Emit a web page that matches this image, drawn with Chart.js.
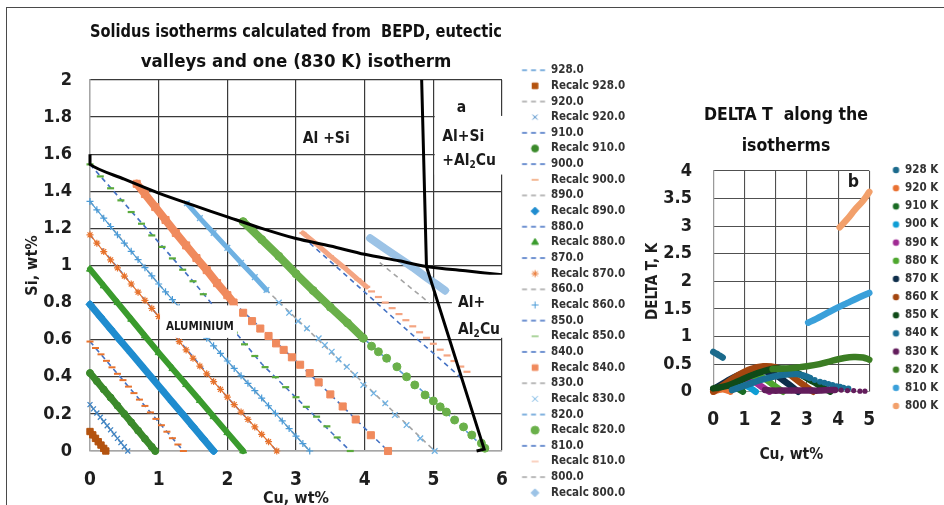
<!DOCTYPE html>
<html>
<head>
<meta charset="utf-8">
<script src="https://cdn.jsdelivr.net/npm/chart.js@4.4.1/dist/chart.umd.min.js"></script>
<style>
  html, body { margin: 0; padding: 0; background: #fff; overflow: hidden; }
  #page { position: relative; width: 944px; height: 505px; overflow: hidden; }
  #frame { position: absolute; left: 6px; top: 7px; width: 960px; height: 520px; border-top: 1px solid #4a4a4a; border-left: 1px solid #4a4a4a; }
  #isoBox { position: absolute; left: 0; top: 0; width: 640px; height: 563px; }
  #deltaBox { position: absolute; left: 622px; top: 0; width: 328px; height: 576px; }
</style>
</head>
<body>
<div id="page">
  <div id="frame"></div>
  <div id="isoBox"><canvas id="isoChart"></canvas></div>
  <div id="deltaBox"><canvas id="deltaChart"></canvas></div>
</div>
<script>
const FONT = "'DejaVu Sans Condensed', 'Liberation Sans Narrow', 'Arial Narrow', sans-serif";

// ---- isotherm temperatures, K ----
const temps = [928, 920, 910, 900, 890, 880, 870, 860, 850, 840, 830, 820, 810, 800];

// ---- BEPD solidus isotherms, [Cu wt%, Si wt%] ----
const iso928 = [[0, 0.105], [0.23, 0]];
const iso920 = [[0, 0.25], [0.55, 0]];
const iso910 = [[0, 0.42], [0.95, 0]];
const iso900 = [[0, 0.59], [1.36, 0]];
const iso890 = [[0, 0.79], [1.8, 0]];
const iso880 = [[0, 0.98], [1.0, 0.53], [2.23, 0]];
const iso870 = [[0, 1.165], [1.0, 0.725], [2.0, 0.29], [2.72, 0]];
const iso860 = [[0, 1.345], [1.0, 0.9], [2.0, 0.485], [3.2, 0]];
const iso850 = [[0, 1.545], [1.5, 0.915], [2.5, 0.47], [3.79, 0]];
const iso840 = [[0.68, 1.44], [1.4, 1.108], [2.09, 0.8], [3.06, 0.465], [4.34, 0]];
const iso830 = [[1.41, 1.335], [2.57, 0.868], [3.62, 0.494], [5.02, 0]];
const iso820 = [[2.23, 1.236], [3.98, 0.608], [5.0, 0.27], [5.75, 0.015]];
const iso810 = [[3.2, 1.12], [3.64, 0.976], [4.5, 0.69], [5.44, 0.383]];
const iso800 = [[4.22, 1.015], [4.95, 0.796]];

// ---- recalculated isotherms, [Cu wt%, Si wt%] ----
const recalc928 = [[0, 0.105], [0.04, 0.087], [0.08, 0.068], [0.12, 0.05], [0.16, 0.032], [0.2, 0.014], [0.23, 0]];
const recalc920 = [[0, 0.25], [0.05, 0.227], [0.1, 0.205], [0.15, 0.182], [0.2, 0.159], [0.25, 0.136], [0.3, 0.114],
  [0.35, 0.091], [0.4, 0.068], [0.45, 0.045], [0.5, 0.023], [0.55, 0]];
const recalc910 = [[0, 0.42], [0.1, 0.376], [0.2, 0.332], [0.3, 0.288], [0.4, 0.244], [0.5, 0.2], [0.6, 0.155],
  [0.7, 0.11], [0.8, 0.066], [0.9, 0.022], [0.95, 0]];
const recalc900 = [[0, 0.59], [0.08, 0.555], [0.16, 0.521], [0.24, 0.486], [0.32, 0.451], [0.4, 0.416], [0.48, 0.382],
  [0.56, 0.347], [0.64, 0.312], [0.72, 0.277], [0.8, 0.243], [0.88, 0.208], [0.96, 0.173], [1.04, 0.139],
  [1.12, 0.104], [1.2, 0.069], [1.28, 0.035], [1.36, 0]];
const recalc890 = [[0, 0.79], [0.15, 0.724], [0.3, 0.658], [0.45, 0.592], [0.6, 0.527], [0.75, 0.461], [0.9, 0.395],
  [1.05, 0.329], [1.2, 0.263], [1.35, 0.198], [1.5, 0.132], [1.65, 0.066], [1.8, 0]];
const recalc880 = [[0, 0.98], [0.2, 0.89], [0.4, 0.8], [0.6, 0.71], [0.8, 0.62], [1.0, 0.53], [1.2, 0.444],
  [1.4, 0.358], [1.6, 0.272], [1.8, 0.185], [2.0, 0.099], [2.23, 0]];
const recalc870 = [[0, 1.165], [0.1, 1.12], [0.2, 1.075], [0.3, 1.03], [0.4, 0.987], [0.5, 0.943], [0.6, 0.9],
  [0.7, 0.856], [0.8, 0.812], [0.9, 0.769], [1.0, 0.725], [1.1, 0.68], [1.2, 0.635], [1.3, 0.59], [1.4, 0.545],
  [1.5, 0.5], [1.6, 0.458], [1.7, 0.416], [1.8, 0.374], [1.9, 0.332], [2.0, 0.29], [2.1, 0.25], [2.2, 0.21],
  [2.3, 0.17], [2.4, 0.13], [2.5, 0.09], [2.6, 0.05], [2.72, 0]];
const recalc860 = [[0, 1.345], [0.1, 1.3], [0.2, 1.255], [0.3, 1.21], [0.4, 1.165], [0.5, 1.12], [0.6, 1.076],
  [0.7, 1.032], [0.8, 0.988], [0.9, 0.944], [1.0, 0.9], [1.1, 0.858], [1.2, 0.816], [1.3, 0.774], [1.4, 0.732],
  [1.5, 0.69], [1.6, 0.649], [1.7, 0.608], [1.8, 0.567], [1.9, 0.526], [2.0, 0.485], [2.1, 0.445], [2.2, 0.405],
  [2.3, 0.365], [2.4, 0.325], [2.5, 0.285], [2.6, 0.244], [2.7, 0.203], [2.8, 0.162], [2.9, 0.121], [3.0, 0.08],
  [3.1, 0.04], [3.2, 0]];
const recalc850 = [[0, 1.545], [0.15, 1.48], [0.3, 1.416], [0.45, 1.351], [0.6, 1.288], [0.75, 1.225], [0.9, 1.162],
  [1.05, 1.1], [1.2, 1.038], [1.35, 0.977], [1.5, 0.915], [1.65, 0.845], [1.8, 0.774], [1.95, 0.704], [2.1, 0.638],
  [2.25, 0.575], [2.4, 0.512], [2.55, 0.452], [2.7, 0.398], [2.85, 0.344], [3.0, 0.29], [3.15, 0.238], [3.3, 0.185],
  [3.45, 0.133], [3.6, 0.073], [3.79, 0]];
const recalc840 = [[0.68, 1.44], [0.8, 1.385], [0.95, 1.315], [1.1, 1.245], [1.25, 1.175], [1.4, 1.108], [1.55, 1.04],
  [1.7, 0.975], [1.85, 0.905], [2.0, 0.84], [2.09, 0.8], [2.23, 0.745], [2.36, 0.7], [2.48, 0.66], [2.6, 0.62],
  [2.71, 0.58], [2.82, 0.545], [2.94, 0.505], [3.06, 0.465], [3.2, 0.42], [3.33, 0.37], [3.5, 0.305], [3.68, 0.24],
  [3.87, 0.17], [4.09, 0.085], [4.34, 0]];
const recalc830 = [[1.41, 1.335], [1.6, 1.255], [1.8, 1.175], [2.0, 1.095], [2.2, 1.015], [2.4, 0.937], [2.57, 0.868],
  [2.75, 0.8], [2.9, 0.745], [3.03, 0.7], [3.16, 0.661], [3.33, 0.607], [3.42, 0.571], [3.52, 0.535], [3.62, 0.494],
  [3.74, 0.454], [3.86, 0.41], [3.98, 0.356], [4.13, 0.311], [4.3, 0.257], [4.44, 0.194], [4.61, 0.14],
  [4.81, 0.068], [5.02, 0]];
const recalc820 = [[2.23, 1.236], [2.5, 1.14], [2.75, 1.05], [3.0, 0.955], [3.25, 0.865], [3.5, 0.775], [3.75, 0.69],
  [3.98, 0.608], [4.1, 0.565], [4.2, 0.535], [4.32, 0.5], [4.47, 0.454], [4.61, 0.4], [4.73, 0.356], [4.88, 0.302],
  [5.0, 0.27], [5.1, 0.238], [5.19, 0.21], [5.31, 0.167], [5.44, 0.13], [5.56, 0.086], [5.7, 0.042], [5.75, 0.015]];
const recalc810 = [[3.1, 1.175], [3.3, 1.115], [3.5, 1.05], [3.7, 0.99], [3.9, 0.925], [4.03, 0.885], [4.1, 0.86],
  [4.2, 0.83], [4.3, 0.8], [4.4, 0.77], [4.5, 0.738], [4.6, 0.705], [4.7, 0.672], [4.8, 0.64], [4.9, 0.61],
  [5.0, 0.578], [5.1, 0.546], [5.2, 0.515], [5.3, 0.485], [5.4, 0.455], [5.49, 0.427]];
const recalc800 = [[4.08, 1.147], [4.3, 1.09], [4.5, 1.04], [4.7, 0.99], [4.9, 0.935], [5.05, 0.897], [5.17, 0.865]];

// ---- eutectic valleys ----
const valleySi = [[0, 1.6], [0, 1.545], [0.5, 1.465], [1, 1.39], [1.5, 1.325], [2, 1.262], [2.5, 1.2], [3, 1.145],
  [3.5, 1.105], [4, 1.06], [4.5, 1.025], [4.9, 0.995], [5.5, 0.97], [6, 0.95]];
const valleyCu = [[4.83, 2.0], [4.9, 0.995], [5.74, 0.01], [5.63, 0]];

// ---- DELTA T along the isotherms, [Cu wt%, K] ----
const deltaLabels = ['928 K', '920 K', '910 K', '900 K', '890 K', '880 K', '870 K', '860 K', '850 K', '840 K', '830 K', '820 K', '810 K', '800 K'];
const dt928 = [[0, 0.72], [0.1, 0.69], [0.2, 0.655], [0.3, 0.62]];
const dt920 = [[0, 0], [0.15, 0.03], [0.3, 0.045], [0.45, 0.025], [0.55, 0]];
const dt910 = [[0, 0.04], [0.2, 0.08], [0.4, 0.11], [0.6, 0.1], [0.8, 0.05], [0.95, 0]];
const dt900 = [[0, 0.04], [0.3, 0.11], [0.6, 0.16], [0.9, 0.15], [1.15, 0.08], [1.36, 0]];
const dt890 = [[0, 0.04], [0.4, 0.15], [0.8, 0.22], [1.2, 0.21], [1.5, 0.11], [1.8, 0]];
const dt880 = [[0, 0.04], [0.4, 0.15], [0.8, 0.25], [1.2, 0.29], [1.6, 0.25], [1.95, 0.11], [2.23, 0]];
const dt870 = [[0, 0.04], [0.4, 0.18], [0.8, 0.3], [1.2, 0.37], [1.6, 0.38], [2.0, 0.3], [2.4, 0.14], [2.72, 0]];
const dt860 = [[0, 0], [0.4, 0.15], [0.8, 0.3], [1.2, 0.41], [1.6, 0.46], [2.0, 0.44], [2.4, 0.33], [2.8, 0.16], [3.2, 0]];
const dt850 = [[0, 0.06], [0.4, 0.1], [0.8, 0.19], [1.2, 0.29], [1.6, 0.37], [2.0, 0.42], [2.4, 0.4], [2.8, 0.31],
  [3.2, 0.18], [3.5, 0.08], [3.75, 0]];
const dt840 = [[0.6, 0.03], [0.9, 0.09], [1.2, 0.15], [1.5, 0.21], [1.9, 0.27], [2.3, 0.31], [2.67, 0.32], [2.9, 0.29],
  [3.1, 0.25], [3.25, 0.21], [3.42, 0.18], [3.56, 0.16], [3.69, 0.14], [3.82, 0.12], [3.95, 0.1], [4.06, 0.09],
  [4.17, 0.07], [4.33, 0.06]];
const dt830 = [[1.66, 0.03], [1.9, 0.02], [2.2, 0.02], [2.5, 0.02], [2.8, 0.02], [3.1, 0.02], [3.4, 0.02], [3.7, 0.03],
  [3.9, 0.03], [4.1, 0.03], [4.3, 0.02], [4.5, 0.02], [4.7, 0.01], [4.86, 0.01]];
const dt820 = [[1.9, 0.41], [2.3, 0.42], [2.7, 0.44], [3.0, 0.46], [3.4, 0.5], [3.8, 0.56], [4.2, 0.61], [4.5, 0.63],
  [4.8, 0.62], [5.0, 0.58]];
const dt810 = [[3.04, 1.25], [3.3, 1.32], [3.6, 1.41], [4.0, 1.53], [4.3, 1.61], [4.6, 1.69], [5.0, 1.79]];
const dt800 = [[4.05, 2.98], [4.3, 3.13], [4.54, 3.3], [4.8, 3.46], [5.0, 3.62]];

const isoLines = [iso928, iso920, iso910, iso900, iso890, iso880, iso870, iso860, iso850, iso840, iso830, iso820, iso810, iso800];
const recalcLines = [recalc928, recalc920, recalc910, recalc900, recalc890, recalc880, recalc870, recalc860, recalc850,
  recalc840, recalc830, recalc820, recalc810, recalc800];
const deltaLines = [dt928, dt920, dt910, dt900, dt890, dt880, dt870, dt860, dt850, dt840, dt830, dt820, dt810, dt800];

// ---- styles ----
const dashColors = ['#5b9bd5', '#a5a5a5', '#4472c4', '#4472c4', '#a5a5a5', '#4472c4', '#4472c4', '#a5a5a5',
  '#4472c4', '#4472c4', '#a5a5a5', '#5b9bd5', '#4472c4', '#a5a5a5'];
// band = width of the solid stroke under the markers, bandEnd = Cu where it stops
const recalcStyles = [
  { color: '#b4530f', shape: 'rect', r: 4.5, bw: 1, band: 6, bandEnd: 6 },
  { color: '#3f84c4', shape: 'crossRot', r: 3.5, bw: 1.3, band: 0, bandEnd: 0 },
  { color: '#3b8a2b', shape: 'circle', r: 3.5, bw: 1, band: 7, bandEnd: 6 },
  { color: '#e8732d', shape: 'line', r: 3.5, bw: 2, band: 0, bandEnd: 0 },
  { color: '#1f8ccf', shape: 'rectRot', r: 4, bw: 1, band: 7, bandEnd: 6 },
  { color: '#3a9b2d', shape: 'triangle', r: 4, bw: 1, band: 6, bandEnd: 6 },
  { color: '#e8732d', shape: 'star', r: 3.5, bw: 1.2, band: 1.2, bandEnd: 6 },
  { color: '#4a9bd8', shape: 'cross', r: 3.5, bw: 1.2, band: 1.2, bandEnd: 6 },
  { color: '#5aaa3c', shape: 'line', r: 3.5, bw: 2.2, band: 0, bandEnd: 0 },
  { color: '#f08a5d', shape: 'rect', r: 5, bw: 1, band: 8, bandEnd: 2.1 },
  { color: '#6fb1e2', shape: 'crossRot', r: 4, bw: 1.3, band: 5, bandEnd: 2.6 },
  { color: '#6ab04a', shape: 'circle', r: 4, bw: 1, band: 8, bandEnd: 4.0 },
  { color: '#f4a582', shape: 'line', r: 3.5, bw: 2.2, band: 5, bandEnd: 4.05 },
  { color: '#9cc3e6', shape: 'rectRot', r: 4, bw: 1, band: 8, bandEnd: 6 }
];
const deltaStyles = [
  { color: '#1b6a8c', bandEnd: 6, dot: 0 }, { color: '#e97132', bandEnd: 6, dot: 0 },
  { color: '#196b24', bandEnd: 6, dot: 0 }, { color: '#0f9ed5', bandEnd: 6, dot: 0 },
  { color: '#a02b93', bandEnd: 6, dot: 0 }, { color: '#4ea72e', bandEnd: 6, dot: 0 },
  { color: '#0e2d4a', bandEnd: 6, dot: 0 }, { color: '#a3460f', bandEnd: 6, dot: 0 },
  { color: '#0f4a18', bandEnd: 6, dot: 0 }, { color: '#1a6f95', bandEnd: 3.1, dot: 3 },
  { color: '#631d5c', bandEnd: 3.9, dot: 2.6 }, { color: '#3b7d23', bandEnd: 6, dot: 0 },
  { color: '#3aa0da', bandEnd: 6, dot: 0 }, { color: '#f2a06b', bandEnd: 6, dot: 0 }
];

// ---- legend icons (offscreen canvases used as point styles) ----
function makeIcon(width, paint) {
  const c = document.createElement('canvas');
  c.width = width; c.height = 14;
  paint(c.getContext('2d'), 7);
  return c;
}
function drawMarker(g, style, x, y, r) {
  g.fillStyle = style.color; g.strokeStyle = style.color;
  if (Chart.helpers && Chart.helpers.drawPoint) {
    Chart.helpers.drawPoint(g, { pointStyle: style.shape, radius: r, borderWidth: style.bw, rotation: 0 }, x, y);
  } else {
    g.beginPath(); g.arc(x, y, r, 0, Math.PI * 2); g.fill();
  }
}
const isoIcons = [];
temps.forEach((t, i) => {
  isoIcons.push(makeIcon(50, (g, cy) => {
    g.strokeStyle = dashColors[i]; g.lineWidth = 1.6; g.setLineDash([5, 4]);
    g.beginPath(); g.moveTo(21.3, cy); g.lineTo(47.3, cy); g.stroke();
  }));
  isoIcons.push(makeIcon(50, (g, cy) => drawMarker(g, recalcStyles[i], 34.3, cy, Math.min(recalcStyles[i].r, 4))));
});
const deltaIcons = deltaStyles.map(s => makeIcon(30, (g, cy) => {
  g.fillStyle = s.color; g.beginPath(); g.arc(23.4, cy, 3.2, 0, Math.PI * 2); g.fill();
}));

// ---- text labels placed in data coordinates ----
function drawRich(ctx, parts, x, y, size, align) {
  const main = `bold ${size}px ${FONT}`;
  const small = `bold ${Math.round(size * 0.65)}px ${FONT}`;
  const isSub = p => typeof p === 'object';
  let w = 0;
  parts.forEach(p => { ctx.font = isSub(p) ? small : main; w += ctx.measureText(isSub(p) ? p.sub : p).width; });
  let cx = align === 'left' ? x : x - w / 2;
  ctx.textAlign = 'left'; ctx.textBaseline = 'middle'; ctx.fillStyle = '#1a1a1a';
  parts.forEach(p => {
    const s = isSub(p) ? p.sub : p;
    ctx.font = isSub(p) ? small : main;
    ctx.fillText(s, cx, isSub(p) ? y + size * 0.32 : y);
    cx += ctx.measureText(s).width;
  });
}
function notesPlugin(boxes, texts) {
  return {
    id: 'notes',
    afterDatasetsDraw(chart) {
      const { ctx, scales: { x, y } } = chart;
      ctx.save();
      boxes.forEach(b => {
        const x0 = x.getPixelForValue(b.x0), x1 = x.getPixelForValue(b.x1);
        const y0 = y.getPixelForValue(b.y1), y1 = y.getPixelForValue(b.y0);
        ctx.fillStyle = '#fff';
        ctx.fillRect(x0, y0, x1 - x0, y1 - y0);
      });
      texts.forEach(t => drawRich(ctx, t.parts, x.getPixelForValue(t.x), y.getPixelForValue(t.y), t.size, t.align));
      ctx.restore();
    }
  };
}

const boldFont = size => ({ family: FONT, size: size, weight: 'bold', lineHeight: 1.2 });
const plainNumber = v => String(Math.round(v * 10) / 10);

// ---- left chart: isotherms in the Al corner of Al-Cu-Si ----
const isoDatasets = [];
temps.forEach((t, i) => {
  isoDatasets.push({
    label: t.toFixed(1),
    data: isoLines[i],
    showLine: true,
    borderColor: dashColors[i],
    borderWidth: 1.6,
    borderDash: [5, 4],
    pointRadius: 0,
    order: 2
  });
  const s = recalcStyles[i];
  isoDatasets.push({
    label: 'Recalc ' + t.toFixed(1),
    data: recalcLines[i],
    showLine: s.band > 0,
    borderColor: s.color,
    borderWidth: s.band,
    borderCapStyle: 'round',
    segment: { borderColor: c => (c.p1.parsed.x <= s.bandEnd + 1e-6 ? s.color : 'rgba(0,0,0,0)') },
    pointStyle: s.shape,
    pointRadius: s.r,
    pointBorderWidth: s.bw,
    pointBackgroundColor: s.color,
    pointBorderColor: s.color,
    clip: false,
    order: 1
  });
});
isoDatasets.push({ label: 'valley Al+Si', data: valleySi, showLine: true, borderColor: '#000', borderWidth: 3,
  pointRadius: 0, tension: 0.3, clip: false, order: 0 });
isoDatasets.push({ label: 'valley Al2Cu', data: valleyCu, showLine: true, borderColor: '#000', borderWidth: 3,
  pointRadius: 0, clip: false, order: 0 });

const isoNotes = notesPlugin(
  [
    { x0: 5.02, x1: 6.1, y0: 1.49, y1: 1.806 },
    { x0: 5.27, x1: 6.1, y0: 0.61, y1: 0.95 },
    { x0: 1.02, x1: 2.14, y0: 0.61, y1: 0.785 }
  ],
  [
    { x: 3.44, y: 1.68, parts: ['Al +Si'], size: 15.5, align: 'center' },
    { x: 5.41, y: 1.85, parts: ['a'], size: 15.5, align: 'center' },
    { x: 5.13, y: 1.69, parts: ['Al+Si'], size: 15.5, align: 'left' },
    { x: 5.13, y: 1.565, parts: ['+Al', { sub: '2' }, 'Cu'], size: 15.5, align: 'left' },
    { x: 5.36, y: 0.8, parts: ['Al+'], size: 15.5, align: 'left' },
    { x: 5.36, y: 0.655, parts: ['Al', { sub: '2' }, 'Cu'], size: 15.5, align: 'left' },
    { x: 1.6, y: 0.67, parts: ['ALUMINIUM'], size: 11.5, align: 'center' }
  ]
);

new Chart(document.getElementById('isoChart'), {
  type: 'scatter',
  data: { datasets: isoDatasets },
  plugins: [isoNotes],
  options: {
    responsive: true,
    maintainAspectRatio: false,
    animation: false,
    events: [],
    layout: { padding: 0 },
    plugins: {
      title: {
        display: true,
        fullSize: false,
        text: ['Solidus isotherms calculated from  BEPD, eutectic', 'valleys and one (830 K) isotherm'],
        color: '#111',
        font: { family: FONT, size: 18.5, weight: 'bold', lineHeight: 1.62 },
        padding: { top: 17, bottom: 3 }
      },
      legend: {
        position: 'right',
        align: 'center',
        labels: {
          usePointStyle: true,
          pointStyleWidth: 39.1,
          padding: 4.15,
          color: '#333',
          font: { family: FONT, size: 11.5, weight: 'bold' },
          generateLabels: chart => chart.data.datasets.slice(0, 28).map((ds, i) => ({
            text: ds.label, pointStyle: isoIcons[i], fillStyle: 'rgba(0,0,0,0)', strokeStyle: 'rgba(0,0,0,0)',
            lineWidth: 0, hidden: false, datasetIndex: i, fontColor: '#333'
          }))
        }
      },
      tooltip: { enabled: false }
    },
    scales: {
      x: {
        type: 'linear', min: 0, max: 6,
        ticks: { stepSize: 1, padding: 17.6, color: '#1e1e1e', font: boldFont(19), callback: plainNumber },
        grid: { color: '#3a3a3a', lineWidth: 1.2, drawTicks: false },
        border: { color: '#a6a6a6', width: 1.2 },
        title: { display: true, text: 'Cu, wt%', color: '#1e1e1e', font: boldFont(16), padding: { top: 0, bottom: 54.4 } },
        afterFit: s => { s.height = 112; s.paddingRight = 138; }
      },
      y: {
        type: 'linear', min: 0, max: 2,
        ticks: { stepSize: 0.2, padding: 18, color: '#1e1e1e', font: boldFont(18), callback: plainNumber },
        grid: { color: '#3a3a3a', lineWidth: 1.2, drawTicks: false },
        border: { color: '#a6a6a6', width: 1.2 },
        title: { display: true, text: 'Si, wt%', color: '#1e1e1e', font: boldFont(16), padding: { top: 23.4, bottom: 0 } },
        afterFit: s => { s.width = 90; }
      }
    }
  }
});

// ---- right chart: DELTA T along the isotherms ----
const deltaDatasets = deltaLines.map((d, i) => {
  const s = deltaStyles[i];
  return {
    label: deltaLabels[i],
    data: d,
    showLine: true,
    borderColor: s.color,
    borderWidth: 6.5,
    borderCapStyle: 'round',
    borderJoinStyle: 'round',
    tension: 0.35,
    segment: { borderColor: c => (c.p1.parsed.x <= s.bandEnd + 1e-6 ? s.color : 'rgba(0,0,0,0)') },
    pointRadius: s.dot,
    pointBorderWidth: 0,
    pointBackgroundColor: s.color,
    pointBorderColor: s.color,
    clip: false,
    order: -i
  };
});

new Chart(document.getElementById('deltaChart'), {
  type: 'scatter',
  data: { datasets: deltaDatasets },
  plugins: [notesPlugin([], [{ x: 4.49, y: 3.8, parts: ['b'], size: 17.5, align: 'center' }])],
  options: {
    responsive: true,
    maintainAspectRatio: false,
    animation: false,
    events: [],
    layout: { padding: 0 },
    plugins: {
      title: {
        display: true,
        fullSize: true,
        text: ['DELTA T  along the', 'isotherms'],
        color: '#111',
        font: { family: FONT, size: 17.5, weight: 'bold', lineHeight: 1.771 },
        padding: { top: 99.5, bottom: 9.5 }
      },
      legend: {
        position: 'right',
        align: 'center',
        labels: {
          usePointStyle: true,
          pointStyleWidth: 23.3,
          padding: 6.65,
          color: '#333',
          font: { family: FONT, size: 11.5, weight: 'bold' },
          generateLabels: chart => chart.data.datasets.map((ds, i) => ({
            text: ds.label, pointStyle: deltaIcons[i], fillStyle: 'rgba(0,0,0,0)', strokeStyle: 'rgba(0,0,0,0)',
            lineWidth: 0, hidden: false, datasetIndex: i, fontColor: '#333'
          }))
        }
      },
      tooltip: { enabled: false }
    },
    scales: {
      x: {
        type: 'linear', min: 0, max: 5,
        ticks: { stepSize: 1, padding: 16.9, color: '#1e1e1e', font: boldFont(19), callback: plainNumber },
        grid: { color: '#505050', lineWidth: 1.1, drawTicks: false },
        border: { color: '#9a9a9a', width: 1.1 },
        title: { display: true, text: 'Cu, wt%', color: '#1e1e1e', font: boldFont(15.5), padding: { top: 0, bottom: 111.7 } },
        afterFit: s => { s.height = 184.3; s.paddingRight = 80.7; }
      },
      y: {
        type: 'linear', min: 0, max: 4,
        ticks: { stepSize: 0.5, padding: 21.3, color: '#1e1e1e', font: boldFont(18), callback: plainNumber },
        grid: { color: '#505050', lineWidth: 1.1, drawTicks: false },
        border: { color: '#9a9a9a', width: 1.1 },
        title: { display: true, text: 'DELTA T, K', color: '#1e1e1e', font: boldFont(15), padding: { top: 21.8, bottom: 0 } },
        afterFit: s => { s.width = 91.3; }
      }
    }
  }
});
</script>
</body>
</html>
